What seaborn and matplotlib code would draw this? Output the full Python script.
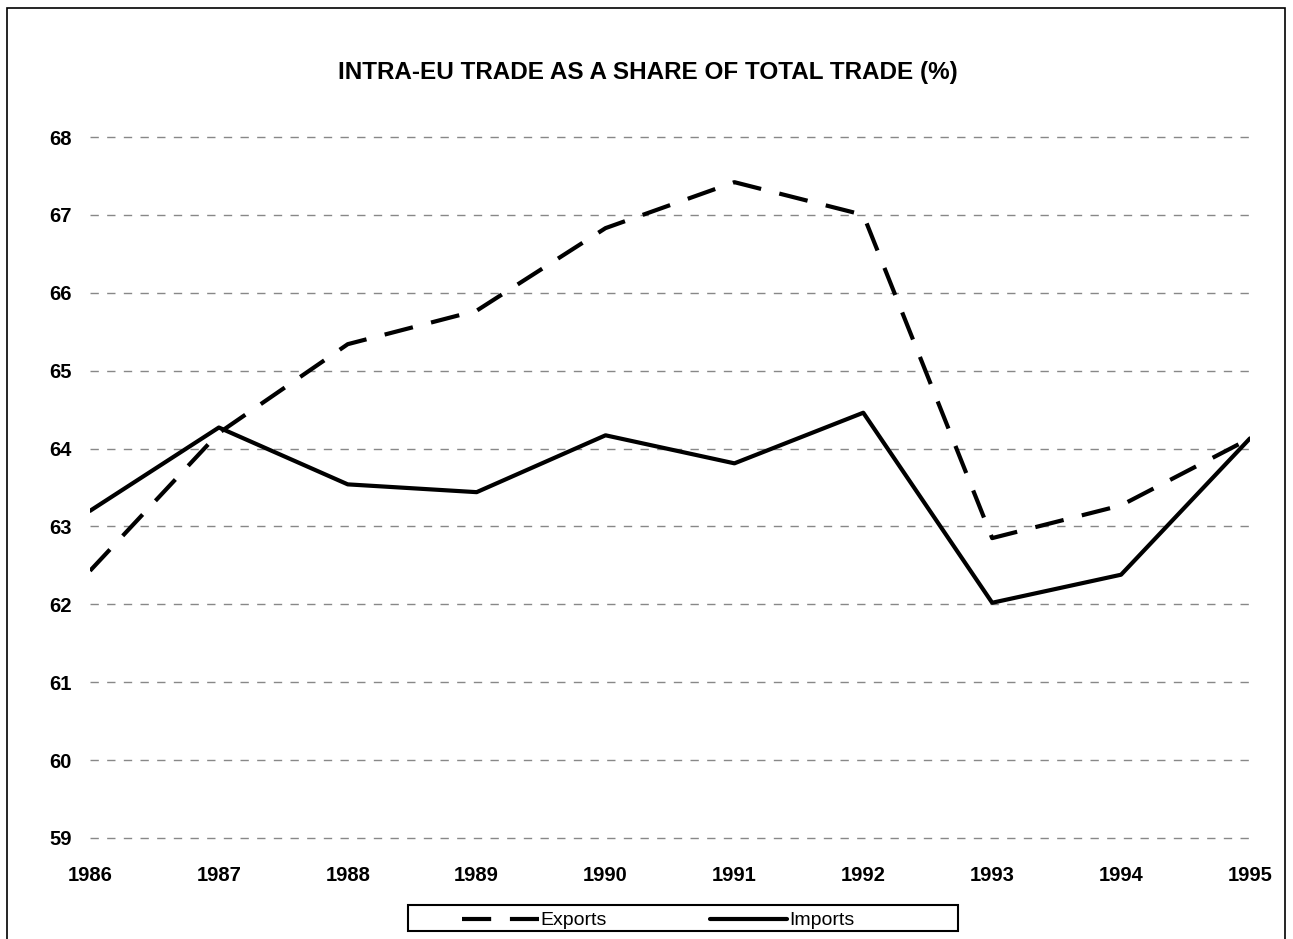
import pandas as pd
import seaborn as sns
import matplotlib.pyplot as plt
from matplotlib.patches import Rectangle

years = [1986, 1987, 1988, 1989, 1990, 1991, 1992, 1993, 1994, 1995]
exports = [62.43, 64.2, 65.34, 65.77, 66.83, 67.42, 67.0, 62.85, 63.27, 64.13]
imports = [63.2, 64.27, 63.54, 63.44, 64.17, 63.81, 64.46, 62.02, 62.38, 64.13]
y_ticks = [59, 60, 61, 62, 63, 64, 65, 66, 67, 68]
title = 'INTRA-EU TRADE AS A SHARE OF TOTAL TRADE (%)'

df = pd.DataFrame({'year': years * 2,
                   'share': exports + imports,
                   'series': ['Exports'] * len(years) + ['Imports'] * len(years)})

sns.set_style('white', {'text.color': 'black', 'xtick.color': 'black', 'ytick.color': 'black'})
plt.rcParams['font.family'] = ['Liberation Sans', 'DejaVu Sans']
plt.rcParams['font.weight'] = 'bold'

fig = plt.figure(figsize=(12.93, 9.39), dpi=100)
ax = fig.add_axes([0.0696, 0.1076, 0.8971, 0.7465])

sns.lineplot(data=df, x='year', y='share', hue='series', style='series',
             palette={'Exports': 'black', 'Imports': 'black'},
             dashes={'Exports': (7, 4.5), 'Imports': ''},
             linewidth=3, ax=ax, legend=False)

ax.set_xlim(1986, 1995)
ax.set_ylim(59, 68)
ax.set_xticks(years)
ax.set_yticks(y_ticks)
ax.yaxis.grid(True, color='#888888', linestyle=(0, (6, 6)), linewidth=1)
for g in ax.get_ygridlines():
    g.set_clip_on(False)
ax.set_axisbelow(True)
for s in ax.spines.values():
    s.set_visible(False)
ax.tick_params(axis='x', length=0, pad=20, labelsize=14.5, labelcolor='black')
ax.tick_params(axis='y', length=0, pad=13, labelsize=14.5, labelcolor='black')
for lab in ax.get_xticklabels() + ax.get_yticklabels():
    lab.set_fontweight('bold')
ax.set_xlabel('')
ax.set_ylabel('')

fig.text(0.501, 0.923, title, ha='center', va='center', fontsize=17.5,
         fontweight='bold', color='black')

# legend: entries without frame, box drawn separately
handles = [plt.Line2D([], [], color='black', lw=3, dashes=(7, 4.5)),
           plt.Line2D([], [], color='black', lw=3)]
leg = fig.legend(handles, ['Exports', 'Imports'], ncol=2, loc='center left',
                 bbox_to_anchor=(0.357, 0.0195), frameon=False,
                 fontsize=14, handlelength=3.96, columnspacing=5.3,
                 borderpad=0, borderaxespad=0, handletextpad=0.1)
for t in leg.get_texts():
    t.set_fontweight('normal')
    t.set_color('black')
fig.patches.append(Rectangle((0.3155, 0.0085), 0.4254, 0.0277, transform=fig.transFigure,
                             fill=False, edgecolor='black', linewidth=1.5))

fig.patches.append(Rectangle((0.0055, -0.02), 0.9885, 1.011, transform=fig.transFigure,
                             fill=False, edgecolor='black', linewidth=1.2))

fig.savefig('out.png', dpi=100)
